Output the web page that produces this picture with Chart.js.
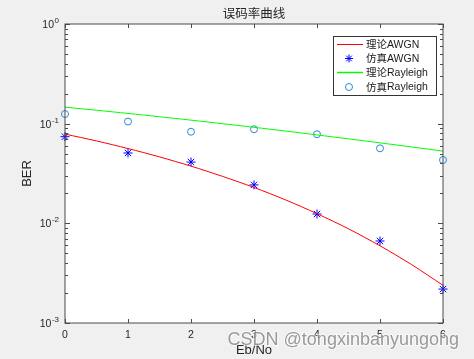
<!DOCTYPE html>
<html>
<head>
<meta charset="utf-8">
<script src="https://cdn.jsdelivr.net/npm/chart.js@4.4.1/dist/chart.umd.min.js"></script>
<style>
  html, body { margin: 0; padding: 0; background: #f0f0f0; }
  #wrap { width: 474px; height: 359px; }
</style>
</head>
<body>
<div id="wrap"><canvas id="c" width="474" height="359"></canvas></div>
<script>
// ---- data ----
const ebnoFine = [0, 0.5, 1, 1.5, 2, 2.5, 3, 3.5, 4, 4.5, 5, 5.5, 6];
const berAwgnTheory = [0.0786, 0.0671, 0.0563, 0.0464, 0.0375, 0.0296, 0.0229, 0.0172, 0.0125, 0.00881, 0.00595, 0.00386, 0.00239];
const berRayTheory = [0.1464, 0.1364, 0.1267, 0.1174, 0.1085, 0.1000, 0.0919, 0.0843, 0.0771, 0.0704, 0.0642, 0.0584, 0.0530];
const ebnoSim = [0, 1, 2, 3, 4, 5, 6];
const berAwgnSim = [0.074, 0.0508, 0.0412, 0.0243, 0.0124, 0.00665, 0.00219];
const berRaySim = [0.125, 0.105, 0.083, 0.0879, 0.0783, 0.0566, 0.0432];
const xTicks = [0, 1, 2, 3, 4, 5, 6];
const yTickExps = [0, -1, -2, -3];
const seriesLabels = ['理论AWGN', '仿真AWGN', '理论Rayleigh', '仿真Rayleigh'];
const titleText = '误码率曲线';
const xLabel = 'Eb/No';
const yLabel = 'BER';
const watermark = 'CSDN @tongxinbanyungong';

const pts = (xs, ys) => xs.map((x, i) => ({ x: x, y: ys[i] }));

const colors = { red: '#ff0000', blue: '#0000ff', green: '#00ff00', circ: '#2a8ad6' };
const txt = '#262626';
const latin = '"Liberation Sans", Arial, sans-serif';
const cjk = '"Noto Sans CJK SC", sans-serif';

const decor = {
  id: 'decor',
  beforeDraw(chart) {
    const { ctx, chartArea: a } = chart;
    ctx.save();
    ctx.fillStyle = '#ffffff';
    ctx.fillRect(a.left, a.top, a.right - a.left, a.bottom - a.top);
    ctx.restore();
  },
  afterDatasetsDraw(chart) {
    const { ctx, chartArea: a } = chart;
    const xs = chart.scales.x, ys = chart.scales.y;
    ctx.save();
    // frame
    ctx.strokeStyle = '#4a4a4a';
    ctx.lineWidth = 1;
    ctx.strokeRect(a.left, a.top, a.right - a.left, a.bottom - a.top);
    ctx.beginPath();
    // x ticks (top & bottom, inward)
    xTicks.forEach(v => {
      const px = Math.round(xs.getPixelForValue(v)) + 0.5;
      ctx.moveTo(px, a.bottom); ctx.lineTo(px, a.bottom - 4);
      ctx.moveTo(px, a.top); ctx.lineTo(px, a.top + 4);
    });
    // y ticks major + minor
    for (let d = -3; d <= 0; d++) {
      for (let m = 1; m <= 9; m++) {
        const v = m * Math.pow(10, d);
        if (v > 1.0000001) break;
        const py = Math.round(ys.getPixelForValue(v)) + 0.5;
        const len = m === 1 ? 5 : 3;
        ctx.moveTo(a.left, py); ctx.lineTo(a.left + len, py);
        ctx.moveTo(a.right, py); ctx.lineTo(a.right - len, py);
      }
    }
    ctx.stroke();

    // x tick labels
    ctx.fillStyle = txt;
    ctx.font = '10.5px ' + latin;
    ctx.textAlign = 'center';
    ctx.textBaseline = 'middle';
    xTicks.forEach(v => ctx.fillText(String(v), xs.getPixelForValue(v), a.bottom + 12));

    // y tick labels with superscripts
    yTickExps.forEach(e => {
      const py = ys.getPixelForValue(Math.pow(10, e));
      const sup = String(e);
      ctx.font = '8px ' + latin;
      const sw = ctx.measureText(sup).width;
      ctx.textAlign = 'right';
      ctx.textBaseline = 'alphabetic';
      ctx.fillText(sup, a.left - 6, py - 1);
      ctx.font = '10.5px ' + latin;
      ctx.textBaseline = 'middle';
      ctx.fillText('10', a.left - 6 - sw - 0.5, py + 1);
    });

    // axis labels
    ctx.font = '13px ' + latin;
    ctx.textAlign = 'center';
    ctx.textBaseline = 'middle';
    ctx.fillText(xLabel, (a.left + a.right) / 2, a.bottom + 27);
    ctx.save();
    ctx.translate(27, (a.top + a.bottom) / 2);
    ctx.rotate(-Math.PI / 2);
    ctx.fillText(yLabel, 0, 0);
    ctx.restore();

    // title
    ctx.font = '12.5px ' + cjk;
    ctx.fillText(titleText, (a.left + a.right) / 2, 13);

    // legend
    const lx = 333.5, ly = 36.5, lw = 103, lh = 59;
    ctx.fillStyle = '#ffffff';
    ctx.fillRect(lx, ly, lw, lh);
    ctx.strokeStyle = '#333333';
    ctx.lineWidth = 1;
    ctx.strokeRect(lx, ly, lw, lh);
    const rows = [44.5, 58.5, 72.5, 87];
    const ds = chart.data.datasets;
    ds.forEach((d, i) => {
      const y = rows[i];
      ctx.strokeStyle = d.borderColor;
      ctx.lineWidth = i === 2 ? 1.5 : 1;
      if (d.showLine !== false) {
        ctx.beginPath(); ctx.moveTo(337, y); ctx.lineTo(363, y); ctx.stroke();
      } else if (d.pointStyle === 'star') {
        const cx = 349, r = 4;
        ctx.beginPath();
        ctx.moveTo(cx - r, y); ctx.lineTo(cx + r, y);
        ctx.moveTo(cx, y - r); ctx.lineTo(cx, y + r);
        const q = r * 0.7071;
        ctx.moveTo(cx - q, y - q); ctx.lineTo(cx + q, y + q);
        ctx.moveTo(cx - q, y + q); ctx.lineTo(cx + q, y - q);
        ctx.stroke();
      } else {
        ctx.beginPath(); ctx.arc(349, y, 3.5, 0, Math.PI * 2); ctx.stroke();
      }
      ctx.fillStyle = '#1a1a1a';
      ctx.textAlign = 'left';
      ctx.textBaseline = 'middle';
      const lab = d.label;
      const m = lab.match(/^([^A-Za-z]+)(.*)$/);
      ctx.font = '10.5px ' + cjk;
      ctx.fillText(m[1], 366, y);
      const w = ctx.measureText(m[1]).width;
      ctx.font = '10.5px ' + latin;
      ctx.fillText(m[2], 366 + w, y + 0.5);
    });

    // watermark
    ctx.font = '18px ' + latin;
    ctx.textAlign = 'right';
    ctx.textBaseline = 'alphabetic';
    ctx.lineWidth = 2;
    ctx.strokeStyle = 'rgba(255,255,255,0.6)';
    ctx.strokeText(watermark, 459, 345);
    ctx.fillStyle = 'rgba(120,120,120,0.75)';
    ctx.fillText(watermark, 459, 345);
    ctx.restore();
  }
};

new Chart(document.getElementById('c'), {
  type: 'line',
  data: {
    datasets: [
      { label: seriesLabels[0], data: pts(ebnoFine, berAwgnTheory), borderColor: colors.red, borderWidth: 1, pointRadius: 0, tension: 0.3, fill: false, clip: false },
      { label: seriesLabels[1], data: pts(ebnoSim, berAwgnSim), showLine: false, pointStyle: 'star', pointRadius: 4.5, borderColor: colors.blue, backgroundColor: colors.blue, pointBorderWidth: 1, clip: false },
      { label: seriesLabels[2], data: pts(ebnoFine, berRayTheory), borderColor: colors.green, borderWidth: 1, pointRadius: 0, tension: 0.3, fill: false, clip: false },
      { label: seriesLabels[3], data: pts(ebnoSim, berRaySim), showLine: false, pointStyle: 'circle', pointRadius: 3.5, borderColor: colors.circ, backgroundColor: 'rgba(0,0,0,0)', pointBorderWidth: 1, clip: false }
    ]
  },
  options: {
    responsive: false,
    animation: false,
    layout: { padding: { left: 65, right: 31, top: 24, bottom: 36 } },
    plugins: { legend: { display: false }, tooltip: { enabled: false }, title: { display: false } },
    scales: {
      x: { type: 'linear', min: 0, max: 6, display: false },
      y: { type: 'logarithmic', min: 0.001, max: 1, display: false }
    }
  },
  plugins: [decor]
});
</script>
</body>
</html>
